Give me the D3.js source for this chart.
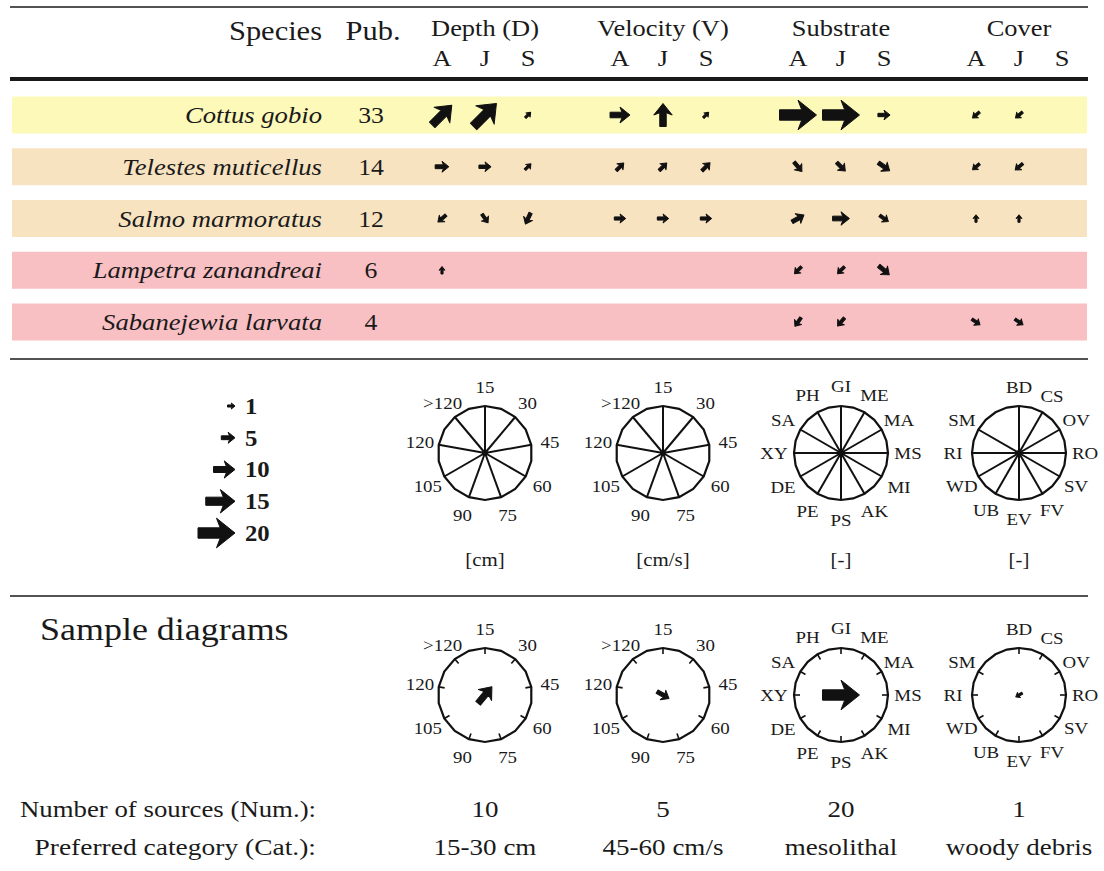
<!DOCTYPE html>
<html><head><meta charset="utf-8">
<script src="https://cdn.jsdelivr.net/npm/d3@7"></script>
<style>
html,body{margin:0;padding:0;background:#fff;}
svg{display:block;font-family:"Liberation Serif","Times New Roman",serif;}
</style></head>
<body>
<svg id="chart" width="1104" height="871"></svg>
<script>
// ---------- DATA ----------
const species = ["Cottus gobio","Telestes muticellus","Salmo marmoratus","Lampetra zanandreai","Sabanejewia larvata"];
const pubs = [33,14,12,6,4];
const rowColors = ["#fcf9b9","#f8e3c1","#f8e3c1","#f9c0c4","#f9c0c4"];
const variables = ["Depth (D)","Velocity (V)","Substrate","Cover"];
const stages = ["A","J","S"];
// arrows: [direction in degrees clockwise from top, number of sources] per stage A,J,S
const depthArrows = [
  [[45,14],[45,17],[45,1]],
  [[90,5],[90,4],[45,1.5]],
  [[230,3],[145,3],[205,4]],
  [[0,1],null,null],
  [null,null,null]
];
const velocityArrows = [
  [[90,9],[0,11],[45,1]],
  [[45,3],[45,3],[45,3.5]],
  [[90,3.5],[90,3.5],[90,3.5]],
  [null,null,null],
  [null,null,null]
];
const substrateArrows = [
  [[90,20],[90,20],[90,4]],
  [[140,4],[135,4],[125,5]],
  [[60,5],[90,7],[125,3]],
  [[225,2.5],[225,2.5],[130,5]],
  [[215,3],[220,3],null]
];
const coverArrows = [
  [[230,2],[230,2],null],
  [[230,2],[230,2.5],null],
  [[0,1],[0,1],null],
  [null,null,null],
  [[125,2.5],[125,2.5],null]
];
const legendSizes = [1,5,10,15,20];
const depthCats = ["15","30","45","60","75","90","105","120",">120"];
const velocityCats = ["15","30","45","60","75","90","105","120",">120"];
const substrateCats = ["GI","ME","MA","MS","MI","AK","PS","PE","DE","XY","SA","PH"];
const coverCats = ["BD","CS","OV","RO","SV","FV","EV","UB","WD","RI","SM"];
const units = ["[cm]","[cm/s]","[-]","[-]"];
const sampleNum = [10,5,20,1];
const sampleCatLabel = ["15-30 cm","45-60 cm/s","mesolithal","woody debris"];
const samplePreferred = ["30","60","MS","WD"];
const rowLabels = ["Number of sources (Num.):","Preferred category (Cat.):"];

// ---------- SETUP ----------
const SX = 1.15;
const svg = d3.select("#chart");
const wheelDefs = [
  {cats: depthCats, step: 40, rimN: 18, labelR: 66},
  {cats: velocityCats, step: 40, rimN: 18, labelR: 66},
  {cats: substrateCats, step: 30, rimN: 24, labelR: 67},
  {cats: coverCats, step: 30, rimN: 24, labelR: 66}
];
const allArrows = [depthArrows, velocityArrows, substrateArrows, coverArrows];

const xGroup = d3.scalePoint().domain(variables).range([485, 1019]);
const xStage = d3.scalePoint().domain(stages).range([-43, 43]);
const yRow = d3.scalePoint().domain(species).range([115, 322]);
const bandH = 37;
const arrowLen = d3.scaleLinear().domain([1,20]).range([7.5,37]);
const yLegend = d3.scalePoint().domain(legendSizes).range([406, 533]);

function txt(g, x, y, s, o) {
  o = o || {};
  return g.append("text")
    .attr("transform", `translate(${x},${y}) scale(${o.sx || SX},1)`)
    .attr("text-anchor", o.anchor || "middle")
    .attr("dy", o.dy || 0)
    .attr("font-size", o.size || 20)
    .attr("font-style", o.italic ? "italic" : null)
    .attr("font-weight", o.bold ? "bold" : null)
    .attr("fill", "#1a1a1a")
    .text(s);
}
function arrowPath(L) {
  const hl = 0.5 * L, hw = 0.4 * L, sw = 0.14 * L;
  const t = -L / 2;
  return `M0,${t} L${hw},${t + hl} L${sw},${t + hl * 0.8} L${sw},${L/2} L${-sw},${L/2} L${-sw},${t + hl * 0.8} L${-hw},${t + hl} Z`;
}
function drawArrow(g, x, y, angle, n) {
  const L = arrowLen(n);
  g.append("path")
    .attr("d", arrowPath(L))
    .attr("transform", `translate(${x},${y}) rotate(${angle})`)
    .attr("fill", "#111").attr("stroke", "#111").attr("stroke-width", 1)
    .attr("stroke-linejoin", "round");
}
function hline(y, w) {
  svg.append("line").attr("x1", 10).attr("x2", 1088).attr("y1", y).attr("y2", y)
    .attr("stroke", "#1a1a1a").attr("stroke-width", w);
}

// ---------- TABLE HEADER ----------
hline(7, 1.6);
txt(svg, 322, 40, "Species", {anchor: "end", size: 26.5});
txt(svg, 373, 40, "Pub.", {size: 26.5});
variables.forEach(v => {
  txt(svg, xGroup(v), 36, v, {size: 23});
  stages.forEach(s => txt(svg, xGroup(v) + xStage(s), 66, s, {size: 23}));
});
hline(79, 4);

// ---------- TABLE ROWS ----------
species.forEach((sp, i) => {
  const yc = yRow(sp);
  svg.append("rect").attr("x", 12).attr("width", 1075)
    .attr("y", yc - bandH / 2).attr("height", bandH).attr("fill", rowColors[i]);
  txt(svg, 322, yc, sp, {anchor: "end", size: 23, italic: true, dy: "0.35em", sx: 1.16});
  txt(svg, 371, yc, pubs[i], {size: 23, dy: "0.35em", sx: 1.12});
  variables.forEach((v, vi) => {
    allArrows[vi][i].forEach((a, si) => {
      if (a) drawArrow(svg, xGroup(v) + xStage(stages[si]), yc, a[0], a[1]);
    });
  });
});
hline(359, 1.6);

// ---------- LEGEND ----------
legendSizes.forEach(n => {
  const L = arrowLen(n);
  drawArrow(svg, 235 - L / 2, yLegend(n), 90, n);
  txt(svg, 245, yLegend(n), n, {anchor: "start", size: 22.5, bold: true, dy: "0.35em", sx: 1.1});
});

// ---------- WHEELS ----------
function drawWheel(cx, cy, def, mode) {
  const g = svg.append("g").attr("transform", `translate(${cx},${cy})`);
  const R = 47;
  const ang = d3.scaleLinear().domain([0, 1]).range([0, def.step * Math.PI / 180]);
  const rimPts = d3.range(def.rimN).map(k => [k * 2 * Math.PI / def.rimN, R]);
  g.append("path")
    .attr("d", d3.lineRadial().curve(d3.curveLinearClosed)(rimPts))
    .attr("fill", "none").attr("stroke", "#111").attr("stroke-width", 2.2);
  def.cats.forEach((c, k) => {
    const a = ang(k);
    const sx = Math.sin(a), sy = -Math.cos(a);
    if (mode === "spokes") {
      g.append("line").attr("x1", 0).attr("y1", 0).attr("x2", R * sx).attr("y2", R * sy)
        .attr("stroke", "#111").attr("stroke-width", 2);
    } else {
      g.append("line").attr("x1", (R - 6) * sx).attr("y1", (R - 6) * sy)
        .attr("x2", R * sx).attr("y2", R * sy)
        .attr("stroke", "#111").attr("stroke-width", 1.6);
    }
    txt(g, def.labelR * sx, def.labelR * sy, c, {size: 17.5, dy: "0.35em", sx: 1.08});
  });
  if (mode === "spokes") g.append("circle").attr("r", 3).attr("fill", "#111");
  return {g, ang};
}

variables.forEach((v, vi) => {
  const def = wheelDefs[vi];
  drawWheel(xGroup(v), 453, def, "spokes");
  txt(svg, xGroup(v), 566, units[vi], {size: 19, sx: 1.1});
  const w = drawWheel(xGroup(v), 695, def, "ticks");
  const k = def.cats.indexOf(samplePreferred[vi]);
  drawArrow(svg, xGroup(v), 695, w.ang(k) * 180 / Math.PI, sampleNum[vi]);
  txt(svg, xGroup(v), 817, sampleNum[vi], {size: 23.5, sx: 1.15});
  txt(svg, xGroup(v), 855, sampleCatLabel[vi], {size: 23.5, sx: 1.15});
});
hline(596, 1.6);

txt(svg, 40, 640, "Sample diagrams", {anchor: "start", size: 31, sx: 1.16});
txt(svg, 316, 817, rowLabels[0], {anchor: "end", size: 23.5, sx: 1.14});
txt(svg, 316, 855, rowLabels[1], {anchor: "end", size: 23.5, sx: 1.17});
</script>
</body></html>
